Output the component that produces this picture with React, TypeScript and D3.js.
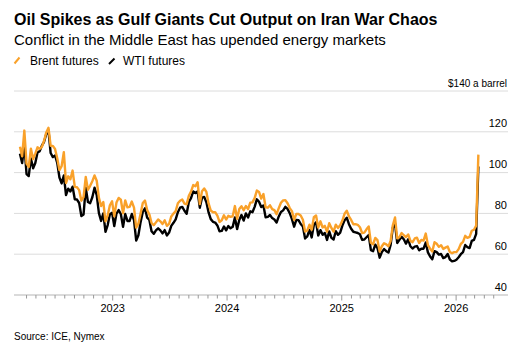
import React from "react";
import * as d3 from "d3";

// weekly Friday closes, $ a barrel
const brent2022 = [112.7, 108, 120.6, 104.4, 102.8, 111.7, 106.6, 109.3, 112.4, 111.6, 112.6, 115.6, 119.7, 122, 113.1, 113.1, 111.6, 107, 101.2, 103.2, 110, 94.9, 98.2, 96.7, 101, 93, 92.8, 91.4, 86.2, 88, 97.9, 91.6, 93.5, 95.8, 98.6, 96, 87.6, 83.6, 85.6, 76.1, 79, 84, 85.9];
const brent2023 = [78.6, 85.3, 87.6, 86.7, 80, 86.4, 83, 83.2, 85.8, 82.8, 73, 75, 79.8, 85.1, 86.3, 81.7, 79.5, 75.3, 74.2, 75.6, 77, 76.1, 74.8, 76.6, 73.9, 74.9, 78.5, 79.9, 81.1, 85, 86.2, 86.8, 84.8, 84.5, 88.6, 90.7, 93.9, 93.3, 95.3, 84.6, 90.9, 92.2, 90.5, 84.9, 81.4, 80.6, 80.6, 78.9, 75.8, 76.6, 79.1, 77];
const brent2024 = [78.8, 78.3, 78.6, 83.6, 77.3, 82.2, 83.5, 81.6, 83.6, 82.1, 85.3, 85.4, 87.5, 91.2, 90.5, 87.3, 89.5, 83, 82.8, 84, 82.1, 81.6, 79.6, 82.6, 85.2, 86.4, 86.5, 85, 82.6, 81.1, 76.8, 79.7, 79.7, 79, 76.9, 71.1, 71.6, 74.5, 72, 78.1, 79, 73.1, 76.1, 73.1, 73.9, 71, 75.2, 72.9, 71.1, 74.5, 72.9, 74.2];
const brent2025 = [76.5, 79.8, 81.3, 78.5, 76.8, 74.7, 74.7, 74.4, 73.2, 70.4, 70.6, 72.2, 73.6, 65.6, 64.8, 68, 66.9, 61.3, 63.9, 65.4, 64.8, 63.9, 66.5, 74.2, 78, 67.8, 68.3, 70.4, 69.3, 68.4, 69.7, 66.6, 65.9, 67.7, 68.1, 65.5, 67, 66.7, 70.1, 64.5, 62.7, 61.3, 65.9, 65.1, 63.6, 64.4, 62.6, 63.2, 63.8, 61.1, 60.5, 61];
const brent2026 = [61, 62.5, 65, 66, 69, 68, 68.5, 71.5, 72, 74, 108.8];

const wti2022 = [109.3, 104.7, 113.9, 99.3, 98.3, 106.9, 102.1, 104.7, 109.8, 110.5, 113.2, 115.1, 118.9, 120.7, 109.6, 107.6, 108.4, 104.8, 97.6, 94.7, 98.6, 89, 92.1, 90.8, 93.1, 86.9, 86.8, 85.1, 78.7, 79.5, 92.6, 85.6, 85, 87.9, 92.6, 89, 80.1, 76.3, 80, 71, 74.3, 79.6, 80.3];
const wti2023 = [73.8, 79.9, 81.6, 79.7, 73.4, 79.7, 76.3, 76.3, 79.7, 76.7, 66.7, 69.3, 75.7, 80.7, 82.5, 77.9, 76.8, 71.3, 70, 71.7, 72.7, 71.7, 70.2, 71.8, 69.2, 70.6, 73.9, 75.4, 77.1, 80.6, 82.8, 83.2, 81.3, 79.8, 85.6, 87.5, 90.8, 90, 90.8, 82.8, 87.7, 88.1, 85.5, 80.5, 77.2, 75.9, 75.5, 74.1, 71.2, 71.4, 73.6, 71.7];
const wti2024 = [73.8, 72.7, 73.4, 78, 72.3, 76.8, 79.2, 76.5, 80, 78, 81, 80.6, 83.2, 86.9, 85.7, 83.1, 83.9, 78.1, 78.3, 79.2, 77.7, 77, 75.5, 78.5, 80.7, 81.5, 83.2, 82.2, 80.1, 77.2, 73.5, 76.8, 76.7, 74.8, 73.6, 67.7, 68.7, 71.9, 68.2, 74.4, 75.6, 69.2, 71.8, 69.5, 70.4, 67, 71.2, 68, 67.2, 71.3, 69.5, 70.6];
const wti2025 = [74, 76.6, 77.9, 74.7, 72.5, 71, 70.7, 70.4, 69.8, 67, 67.2, 68.3, 69.4, 62, 61.5, 64.7, 63, 58.3, 61, 62.5, 61.5, 60.8, 64.6, 73, 75, 65.5, 67, 68.5, 67.3, 65.2, 67.3, 63.9, 62.8, 63.7, 64, 61.9, 62.7, 62.7, 65.7, 60.9, 58.9, 57.5, 61.5, 61, 59.8, 60.1, 58.1, 58.6, 60.1, 57.4, 56.5, 56.7];
const wti2026 = [57.3, 58.5, 60, 61, 64.5, 63.5, 63, 66.5, 67, 70, 103];

const yTicks = [40, 60, 80, 100, 120, 140];
const yearTicks = [2023, 2024, 2025, 2026];

const brent = [...brent2022, ...brent2023, ...brent2024, ...brent2025, ...brent2026];
const wti = [...wti2022, ...wti2023, ...wti2024, ...wti2025, ...wti2026];
const weeks = d3.timeFriday.range(new Date(2022, 2, 10), new Date(2026, 2, 14));

const ORANGE = "#f9a12a";
const FONT = "'Liberation Sans', Arial, sans-serif";

export default function App() {
  const width = 525;
  const height = 353;
  const left = 14;
  const right = 505;

  const x = d3.scaleTime().domain([new Date(2022, 1, 20), new Date(2026, 5, 6)]).range([left, right]);
  const y = d3.scaleLinear().domain([40, 140]).range([295, 91]);

  const line = d3
    .line<number>()
    .x((_, i) => x(weeks[i]))
    .y((d) => y(d));

  const months = d3.timeMonth.range(new Date(2022, 2, 1), new Date(2026, 5, 2)).filter((m) => x(m) > left + 6 && x(m) < right - 4);

  return (
    <svg width={width} height={height} style={{ position: "absolute", left: 0, top: 0, background: "#fff" }} fontFamily={FONT}>
      <text x={14} y={25} fontSize={16} fontWeight="bold" fill="#000">
        Oil Spikes as Gulf Giants Cut Output on Iran War Chaos
      </text>
      <text x={14} y={45} fontSize={15} fill="#000">
        Conflict in the Middle East has upended energy markets
      </text>

      <line x1={14.5} y1={63.5} x2={19.5} y2={57.5} stroke={ORANGE} strokeWidth={2} />
      <text x={30} y={64.5} fontSize={12} fill="#000">Brent futures</text>
      <line x1={109} y1={64} x2={114.5} y2={58.5} stroke="#000" strokeWidth={2} />
      <text x={123} y={64.5} fontSize={12} fill="#000">WTI futures</text>

      {yTicks.map((t) => (
        <g key={t}>
          <line x1={left} x2={508} y1={y(t)} y2={y(t)} stroke={t === 40 ? "#b5b5b5" : "#dcdcdc"} strokeWidth={1} />
          <text x={507} y={y(t) - 4.5} textAnchor="end" fontSize={t === 140 ? 10 : 11} fill="#000">
            {t === 140 ? "$140 a barrel" : t}
          </text>
        </g>
      ))}

      {months.map((m) => (
        <line key={+m} x1={x(m)} x2={x(m)} y1={295} y2={m.getMonth() === 0 ? 300.5 : 298.5} stroke="#999" strokeWidth={1} />
      ))}
      {yearTicks.map((yr) => (
        <text key={yr} x={x(new Date(yr, 0, 1))} y={312} textAnchor="middle" fontSize={11} fill="#000">
          {yr}
        </text>
      ))}

      <path d={line(wti) ?? ""} fill="none" stroke="#000" strokeWidth={2.4} strokeLinejoin="round" />
      <path d={line(brent) ?? ""} fill="none" stroke={ORANGE} strokeWidth={2.4} strokeLinejoin="round" />

      <text x={14} y={340} fontSize={10} fill="#000">Source: ICE, Nymex</text>
    </svg>
  );
}
